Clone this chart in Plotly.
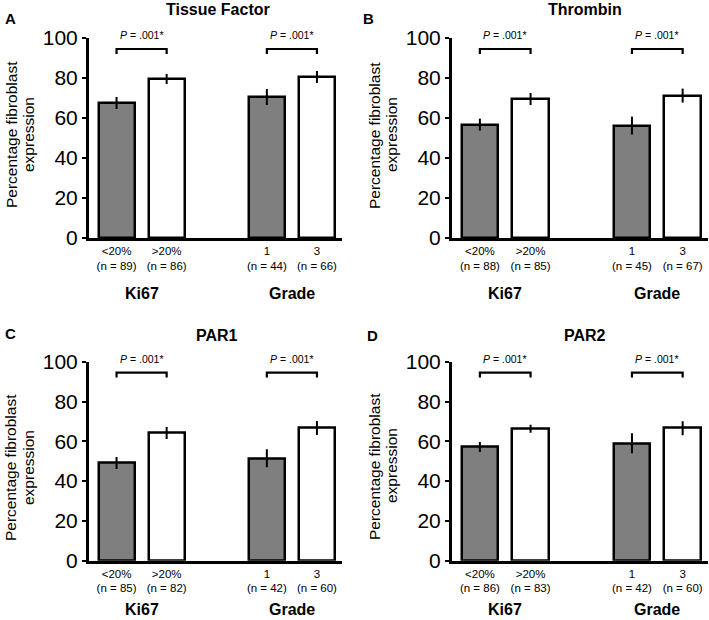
import plotly.graph_objects as go

W, H = 709, 620

# ---------------- data ----------------
panel_titles = ["Tissue Factor", "Thrombin", "PAR1", "PAR2"]
panel_letters = ["A", "B", "C", "D"]
categories = ["<20%", ">20%", "1", "3"]
group_labels = ["Ki67", "Grade"]
n_tf = [89, 86, 44, 66]
n_thrombin = [88, 85, 45, 67]
n_par1 = [85, 82, 42, 60]
n_par2 = [86, 83, 42, 60]
mean_tf = [67.5, 79.5, 70.5, 80.5]
mean_thrombin = [56.7, 69.5, 56.2, 71.2]
mean_par1 = [49.1, 64.2, 51.5, 66.7]
mean_par2 = [57.1, 66.3, 59.0, 66.6]
err_tf = [3.0, 2.5, 4.0, 3.0]
err_thrombin = [3.0, 3.0, 4.5, 3.5]
err_par1 = [3.0, 3.0, 4.5, 3.5]
err_par2 = [2.5, 2.0, 5.0, 3.5]
p_labels = [".001*", ".001*"]
y_ticks = [0, 20, 40, 60, 80, 100]

ns = [n_tf, n_thrombin, n_par1, n_par2]
means = [mean_tf, mean_thrombin, mean_par1, mean_par2]
errs = [err_tf, err_thrombin, err_par1, err_par2]

# ---------------- layout helpers ----------------
FONT = "Arial, Liberation Sans, sans-serif"
xpos = [0, 1, 3, 4]
colors = ["#7f7f7f", "#ffffff", "#7f7f7f", "#ffffff"]


def px(x):
    return x / W


def py(y):
    return 1 - y / H


# panel geometry in pixels: (axis_left, axis_right, y_top(100), y_bottom(0))
geom = [
    (89, 342, 38, 238),
    (452, 708, 38, 238),
    (89, 342, 361.7, 560.7),
    (452, 708, 361.7, 560.7),
]
title_pos = [(218, 10), (585, 10), (217, 335), (585, 335)]
letter_pos = [(10, 18), (368, 18), (10, 333), (373, 335)]
ytitle_pos = [(11, 28, 135), (374, 391, 135), (10, 28, 468), (374, 391, 466)]
group_y = [293, 293, 609, 609]

fig = go.Figure()
annotations = []
shapes = []

for i in range(4):
    sfx = "" if i == 0 else str(i + 1)
    xa, ya = "x" + sfx, "y" + sfx
    ticktext = [f"{c}<br>(n = {n})" for c, n in zip(categories, ns[i])]
    fig.add_trace(go.Bar(
        x=xpos, y=means[i], xaxis=xa, yaxis=ya, width=0.72,
        marker=dict(color=colors, line=dict(color="black", width=2.5)),
        error_y=dict(type="data", array=errs[i], color="black", thickness=2, width=0),
        showlegend=False, hoverinfo="skip",
    ))
    l, r, t, b = geom[i]
    fig.update_layout({
        "xaxis" + sfx: dict(
            domain=[px(l), px(r)], range=[-0.55, 4.5], anchor=ya, automargin=False,
            tickvals=xpos, ticktext=ticktext, showline=True, linecolor="black",
            linewidth=3, ticks="", showgrid=False, zeroline=False,
            tickfont=dict(family=FONT, size=11.5, color="black"), fixedrange=True,
        ),
        "yaxis" + sfx: dict(
            domain=[py(b), py(t)], range=[0, 100], anchor=xa, automargin=False,
            tickvals=y_ticks, showline=True, linecolor="black", linewidth=3,
            ticks="outside", ticklen=4, tickwidth=2, tickcolor="black",
            showgrid=False, zeroline=False,
            tickfont=dict(family=FONT, size=21, color="black"), fixedrange=True,
        ),
    })
    scale = (b - t) / 100.0
    # brackets and p-values
    for k, (a, c) in enumerate([(0, 1), (2, 3)]):
        xa_, xc_ = xpos[a], xpos[c]
        shapes.append(dict(type="path", xref=xa, yref=ya,
                           path=f"M {xa_},92 L {xa_},94.5 L {xc_},94.5 L {xc_},92",
                           line=dict(color="black", width=2.2)))
        annotations.append(dict(x=(xa_ + xc_) / 2, y=py(b - 101.5 * scale),
                                xref=xa, yref="paper", xanchor="center", yanchor="middle",
                                text=f"<i>P</i> = {p_labels[k]}", showarrow=False,
                                font=dict(family=FONT, size=10.5, color="black")))
        annotations.append(dict(x=(xa_ + xc_) / 2, y=py(group_y[i]), xref=xa, yref="paper",
                                text=f"<b>{group_labels[k]}</b>", showarrow=False,
                                xanchor="center", yanchor="middle",
                                font=dict(family=FONT, size=16, color="black")))
    tx, ty = title_pos[i]
    annotations.append(dict(x=px(tx), y=py(ty), xref="paper", yref="paper",
                            text=f"<b>{panel_titles[i]}</b>", showarrow=False,
                            xanchor="center", yanchor="middle",
                            font=dict(family=FONT, size=16, color="black")))
    lx, ly = letter_pos[i]
    annotations.append(dict(x=px(lx), y=py(ly), xref="paper", yref="paper",
                            text=f"<b>{panel_letters[i]}</b>", showarrow=False,
                            xanchor="center", yanchor="middle",
                            font=dict(family=FONT, size=15, color="black")))
    x1, x2, yc = ytitle_pos[i]
    for xx, txt in [(x1, "Percentage fibroblast"), (x2, "expression")]:
        annotations.append(dict(x=px(xx), y=py(yc), xref="paper", yref="paper",
                                text=txt, showarrow=False, textangle=-90,
                                xanchor="center", yanchor="middle",
                                font=dict(family=FONT, size=15.5, color="black")))

fig.update_layout(
    width=W, height=H, margin=dict(l=0, r=0, t=0, b=0, pad=0),
    paper_bgcolor="white", plot_bgcolor="white",
    annotations=annotations, shapes=shapes, bargap=0,
)

fig.write_html("out.html", config={"displayModeBar": False},
               post_script="document.body.style.margin='0';")
